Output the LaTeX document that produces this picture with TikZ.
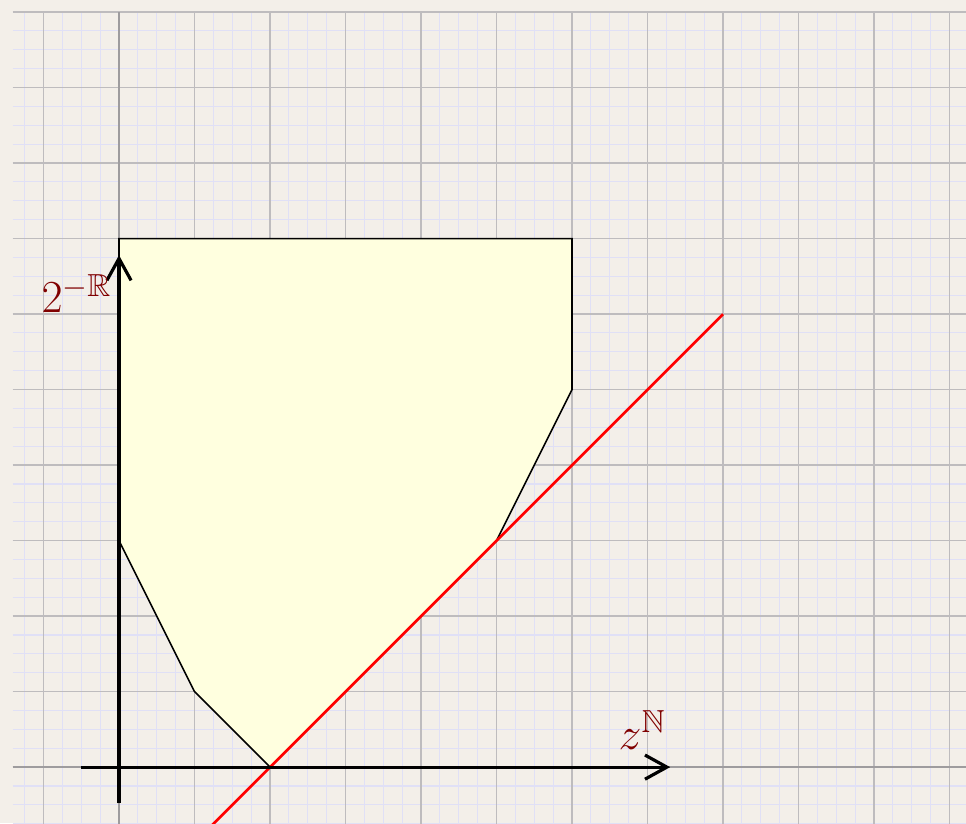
\documentclass[tikz,border=0pt]{standalone}
\usepackage{amsmath,amssymb}
\usepackage{tikz}
\usetikzlibrary{arrows.meta}
\definecolor{Paper}{HTML}{F3EFE9}
\definecolor{MinorLine}{HTML}{E0E0F6}
\definecolor{MajorLine}{HTML}{BEBCBE}
\definecolor{AxisLine}{HTML}{9E9C9E}
\definecolor{Region}{HTML}{FFFFDF}
\definecolor{Label}{HTML}{800000}
\tikzset{
  minorgrid/.style={draw=MinorLine,line width=0.4pt},
  majorgrid/.style={draw=MajorLine,line width=0.5pt},
  axis/.style={-{Straight Barb[length=2.9mm,width=3.2mm]},very thick,draw=black},
  region/.style={draw=black,semithick,fill=Region},
  cut/.style={draw=red,line width=1pt},
  axislabel/.style={text=Label,font=\LARGE}
}
\begin{document}
\begin{tikzpicture}
\clip (-1.576,-0.742) rectangle (11.218,10.16);
\fill[Paper] (-1.576,-0.742) rectangle (11.218,10.16);
% grid
\draw[minorgrid,step=0.25] (-1.41,-1) grid (11.3,10);
\draw[majorgrid,step=1] (-1.41,-1) grid (11.3,10);
\draw[draw=AxisLine,line width=0.6pt] (-1.41,0) -- (11.3,0) (0,-1) -- (0,10);
% feasible region
\draw[region] (0,3) -- (1,1) -- (2,0) -- (5,3) -- (6,5) -- (6,7) -- (0,7) -- cycle;
\draw[cut] (1,-1) -- (8,6);
% axes
\coordinate (xs) at (-0.5,0);
\coordinate (xe) at (7.3,0);
\coordinate (ys) at (0,-0.48);
\coordinate (ye) at (0,6.78);
\draw[axis] (xs) -- (xe);
\draw[axis] (ys) -- (ye);
\node[axislabel] (xl) at (6.93,0.49) {$z^{\mathbb{N}}$};
\node[axislabel] (yl) at (-0.56,6.27) {$2^{-\mathbb{R}}$};
\end{tikzpicture}
\end{document}
